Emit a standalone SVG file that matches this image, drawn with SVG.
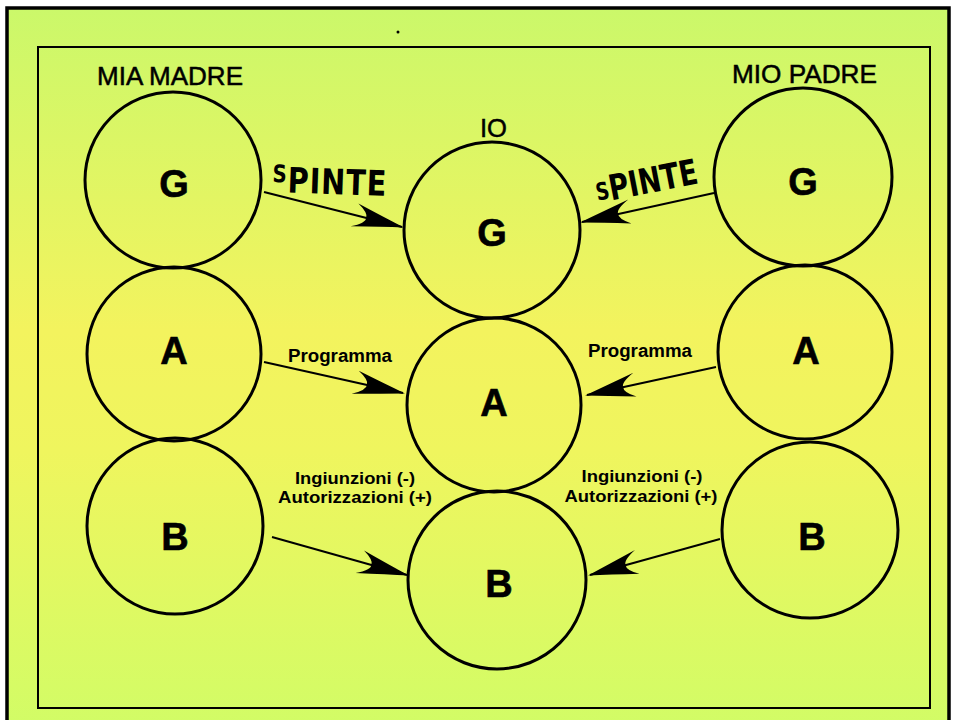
<svg xmlns="http://www.w3.org/2000/svg" width="954" height="720" viewBox="0 0 954 720">
  <defs>
    <linearGradient id="bg" x1="0" y1="0" x2="0" y2="1">
      <stop offset="0" stop-color="#cbf86a"/>
      <stop offset="0.45" stop-color="#f3f35e"/>
      <stop offset="0.62" stop-color="#eff55e"/>
      <stop offset="1" stop-color="#d2fc66"/>
    </linearGradient>
    <marker id="dart" markerUnits="userSpaceOnUse" markerWidth="60" markerHeight="34" viewBox="-56 -17 60 34" refX="0" refY="0" orient="auto">
      <path d="M2,0 Q-20,-5 -48,-12 Q-36,-5 -37,0 Q-36,5 -50,12 Q-20,5 2,0 Z" fill="#000"/>
    </marker>
    <style>
      .node circle { fill: none; stroke: #000; stroke-width: 3; }
      .letter { font-family: "Liberation Sans", Arial, sans-serif; font-weight: bold; font-size: 38px; fill: #000; text-anchor: middle; stroke: #000; stroke-width: 0.6; }
      .title { font-family: "Liberation Sans", Arial, sans-serif; font-size: 25px; fill: #000; stroke: #000; stroke-width: 0.5; }
      .lbl { font-family: "Liberation Sans", Arial, sans-serif; font-weight: bold; font-size: 18px; fill: #000; }
      .small { font-family: "Liberation Sans", Arial, sans-serif; font-weight: bold; font-size: 16px; fill: #000; text-anchor: middle; }
      .hand { font-family: "DejaVu Sans", "Liberation Sans", sans-serif; font-weight: bold; fill: #000; }
      .conn line { stroke: #000; stroke-width: 2; marker-end: url(#dart); }
    </style>
  </defs>

  <rect x="0" y="0" width="954" height="720" fill="#ffffff"/>
  <rect x="7" y="8" width="942" height="716" fill="url(#bg)" stroke="#000" stroke-width="3.5"/>
  <rect x="38" y="47" width="892" height="661" fill="none" stroke="#000" stroke-width="2"/>
  <circle cx="398" cy="32" r="1.5" fill="#000"/>

  <text class="title" x="97" y="85" textLength="146" lengthAdjust="spacingAndGlyphs">MIA MADRE</text>
  <text class="title" x="732" y="83" textLength="145" lengthAdjust="spacingAndGlyphs">MIO PADRE</text>
  <text class="title" x="480" y="137" textLength="27" lengthAdjust="spacingAndGlyphs">IO</text>

  <g id="madre-G" class="node"><circle cx="173" cy="180" r="88"/><text class="letter" x="174" y="197">G</text></g>
  <g id="madre-A" class="node"><circle cx="174" cy="354" r="87"/><text class="letter" x="174" y="364">A</text></g>
  <g id="madre-B" class="node"><circle cx="175" cy="526" r="88"/><text class="letter" x="175" y="550">B</text></g>

  <g id="io-G" class="node"><circle cx="492" cy="230" r="88"/><text class="letter" x="492" y="246">G</text></g>
  <g id="io-A" class="node"><circle cx="494" cy="405" r="87"/><text class="letter" x="494" y="416">A</text></g>
  <g id="io-B" class="node"><circle cx="497" cy="580" r="89"/><text class="letter" x="499" y="597">B</text></g>

  <g id="padre-G" class="node"><circle cx="803" cy="177" r="89"/><text class="letter" x="803" y="195">G</text></g>
  <g id="padre-A" class="node"><circle cx="805" cy="352" r="87"/><text class="letter" x="806" y="364">A</text></g>
  <g id="padre-B" class="node"><circle cx="810" cy="530" r="88"/><text class="letter" x="812" y="550">B</text></g>

  <g id="connectors" class="conn">
    <line x1="264" y1="192" x2="402" y2="227"/>
    <line x1="714" y1="193" x2="582" y2="222"/>
    <line x1="264" y1="362" x2="403" y2="393"/>
    <line x1="716" y1="367" x2="587" y2="395"/>
    <line x1="272" y1="537" x2="407" y2="575"/>
    <line x1="720" y1="539" x2="590" y2="575"/>
  </g>

  <g id="labels">
    <text class="hand" transform="translate(272,192) rotate(2) scale(0.9,1.1)" font-size="32" letter-spacing="1"><tspan font-size="22" dy="-9">S</tspan><tspan dy="9">PINTE</tspan></text>
    <text class="hand" transform="translate(598,203) rotate(-11) scale(0.85,1.1)" font-size="32"><tspan font-size="22" dy="-2">S</tspan><tspan dy="2">PINTE</tspan></text>
    <text class="lbl" x="288" y="362" textLength="104" lengthAdjust="spacingAndGlyphs">Programma</text>
    <text class="lbl" x="588" y="357" textLength="104" lengthAdjust="spacingAndGlyphs">Programma</text>
    <text class="small" x="355" y="484" textLength="120" lengthAdjust="spacingAndGlyphs">Ingiunzioni (-)</text>
    <text class="small" x="355" y="503" textLength="154" lengthAdjust="spacingAndGlyphs">Autorizzazioni (+)</text>
    <text class="small" x="642" y="482" textLength="121" lengthAdjust="spacingAndGlyphs">Ingiunzioni (-)</text>
    <text class="small" x="641" y="502" textLength="153" lengthAdjust="spacingAndGlyphs">Autorizzazioni (+)</text>
  </g>
</svg>
